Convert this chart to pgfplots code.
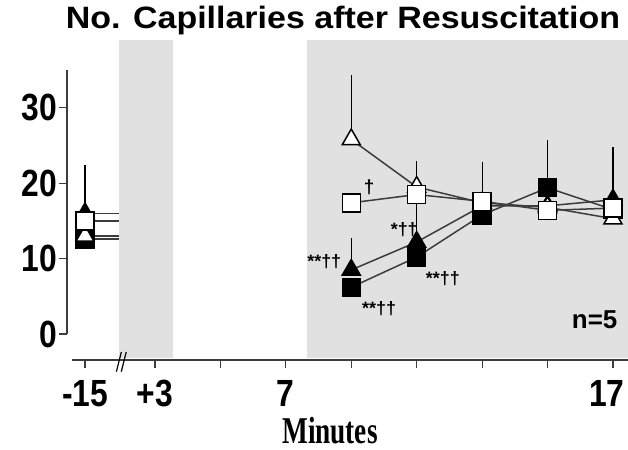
\documentclass[border=0pt]{standalone}
\usepackage{pgfplots}
\pgfplotsset{compat=1.18}
\usepackage{fontspec}
\setmainfont{Liberation Sans}
\newfontfamily\serifbf{Liberation Serif}
\usepackage{graphicx}
\newcommand\tl[1]{\scalebox{0.84}[1]{\fontsize{38}{38}\selectfont\bfseries #1}}
\definecolor{bandgray}{HTML}{E1E1E1}
\definecolor{linegray}{HTML}{3C3C3C}
\begin{document}
\begin{tikzpicture}
\begin{axis}[
  at={(0,0)}, anchor=south west, scale only axis,
  width=561bp, height=320bp,
  xmin=0.31, xmax=17.46, ymin=-3.45, ymax=39,
  axis line style={draw=none},
  clip=false,
  xtick={0.86,3,5,7,9,11,13,15,17},
  xticklabels={\tl{-15},\tl{+3},,\tl{7},,,,,\tl{17}\hspace*{12bp}},
  ytick={0,10,20,30},
  yticklabels={\tl{0},\tl{10},\tl{20},\tl{30}},
  tick align=outside, tick pos=left,
  major tick length=8bp,
  tick style={linegray, line width=1.1bp},
  xticklabel style={inner sep=1bp, yshift=-11bp},
  yticklabel style={inner sep=2bp},
  every axis plot/.append style={line width=1.5bp},
]
% shaded bands
\fill[bandgray] (axis cs:1.89,-3.2) rectangle (axis cs:3.55,39);
\fill[bandgray] (axis cs:7.66,-3.2) rectangle (axis cs:17.46,39);
% axis lines
\draw[linegray, line width=1.3bp] (axis cs:0.31,0) -- (axis cs:0.31,35);
\draw[linegray, line width=1.3bp] (axis cs:0.46,-3.45) -- (axis cs:17.46,-3.45);
\draw[black, line width=1.2bp] (axis cs:1.82,-5.0) -- (axis cs:1.97,-2.4);
\draw[black, line width=1.2bp] (axis cs:1.97,-5.0) -- (axis cs:2.12,-2.4);

% baseline segments towards the break
\addplot[linegray, no marks] coordinates {(0.86,16.0) (1.89,16.0)};
\addplot[linegray, no marks] coordinates {(0.86,15.0) (1.89,15.0)};
\addplot[linegray, no marks] coordinates {(0.86,13.0) (1.89,13.0)};
\addplot[linegray, no marks] coordinates {(0.86,12.6) (1.89,12.6)};

% filled squares
\addplot[linegray, mark=square*, mark size=9bp,
  mark options={draw=black, fill=black, line width=1.5bp},
  error bars/.cd, y dir=plus, y explicit,
  error bar style={black, line width=1.2bp},
  error mark options={black, mark size=5bp, line width=1.2bp}]
  coordinates {(9,6.2) +- (0,0) (11,10.2) +- (0,0) (13,15.8) +- (0,4.8) (15,19.4) +- (0,5.3) (17,16.5) +- (0,5.7)};
\addplot[draw=none, mark=square*, mark size=9bp,
  mark options={draw=black, fill=black, line width=1.5bp},
  error bars/.cd, y dir=plus, y explicit,
  error bar style={black, line width=1.2bp},
  error mark options={black, mark size=5bp, line width=1.2bp}]
  coordinates {(0.86,12.6) +- (0,6.6)};

% filled triangles
\addplot[linegray, mark=triangle*, mark size=10.4bp,
  mark options={draw=black, fill=black, line width=1.5bp},
  error bars/.cd, y dir=plus, y explicit,
  error bar style={black, line width=1.2bp},
  error mark options={black, mark size=5bp, line width=1.2bp}]
  coordinates {(9,8.5) +- (0,3.6) (11,12.2) +- (0,5.6) (13,17.0) +- (0,4.3) (15,17.0) +- (0,7.0) (17,17.8) +- (0,5.1)};
\addplot[draw=none, mark=triangle*, mark size=10.4bp,
  mark options={draw=black, fill=black, line width=1.5bp},
  error bars/.cd, y dir=plus, y explicit,
  error bar style={black, line width=1.2bp},
  error mark options={black, mark size=5bp, line width=1.2bp}]
  coordinates {(0.86,16.0) +- (0,5.8)};

% open triangles
\addplot[linegray, mark=triangle*, mark size=10.4bp,
  mark options={draw=black, fill=white, line width=1.5bp},
  error bars/.cd, y dir=plus, y explicit,
  error bar style={black, line width=1.2bp},
  error mark options={black, mark size=5bp, line width=1.2bp}]
  coordinates {(9,25.8) +- (0,7.9) (11,19.5) +- (0,2.8) (13,17.4) +- (0,4.5) (15,16.8) +- (0,7.9) (17,15.3) +- (0,8.2)};
\addplot[draw=none, mark=triangle*, mark size=10.4bp,
  mark options={draw=black, fill=white, line width=1.5bp},
  error bars/.cd, y dir=plus, y explicit,
  error bar style={black, line width=1.2bp},
  error mark options={black, mark size=5bp, line width=1.2bp}]
  coordinates {(0.86,13.0) +- (0,6.2)};

% open squares
\addplot[linegray, mark=square*, mark size=9bp,
  mark options={draw=black, fill=white, line width=1.5bp},
  error bars/.cd, y dir=plus, y explicit,
  error bar style={black, line width=1.2bp},
  error mark options={black, mark size=5bp, line width=1.2bp}]
  coordinates {(9,17.4) +- (0,0) (11,18.5) +- (0,0) (13,17.6) +- (0,4.6) (15,16.4) +- (0,8.7) (17,16.7) +- (0,7.4)};
\addplot[draw=none, mark=square*, mark size=9bp,
  mark options={draw=black, fill=white, line width=1.5bp},
  error bars/.cd, y dir=plus, y explicit,
  error bar style={black, line width=1.2bp},
  error mark options={black, mark size=5bp, line width=1.2bp}]
  coordinates {(0.86,15.0) +- (0,5.0)};

% annotations
\node[font=\fontsize{19}{19}\selectfont\bfseries] at (axis cs:9.55,19.4) {†};
\node[font=\fontsize{18}{18}\selectfont\bfseries, anchor=east] at (axis cs:8.8,9.6) {**††};
\node[font=\fontsize{18}{18}\selectfont\bfseries] at (axis cs:9.85,3.4) {**††};
\node[font=\fontsize{18}{18}\selectfont\bfseries] at (axis cs:10.62,13.8) {*††};
\node[font=\fontsize{18}{18}\selectfont\bfseries] at (axis cs:11.8,7.3) {**††};
\node[font=\fontsize{26}{26}\selectfont\bfseries] at (axis cs:16.44,1.9) {n=5};
\end{axis}
\node at (276bp,339bp) {\scalebox{1.1}[1]{\fontsize{31}{31}\selectfont\bfseries No. Capillaries after Resuscitation}};
\node[anchor=base] at (263bp,-83bp) {\scalebox{0.72}[1]{\fontsize{38}{38}\serifbf\bfseries Minutes}};
\pgfresetboundingbox
\path (-67bp,-90bp) rectangle (561bp,360bp);
\end{tikzpicture}
\end{document}
